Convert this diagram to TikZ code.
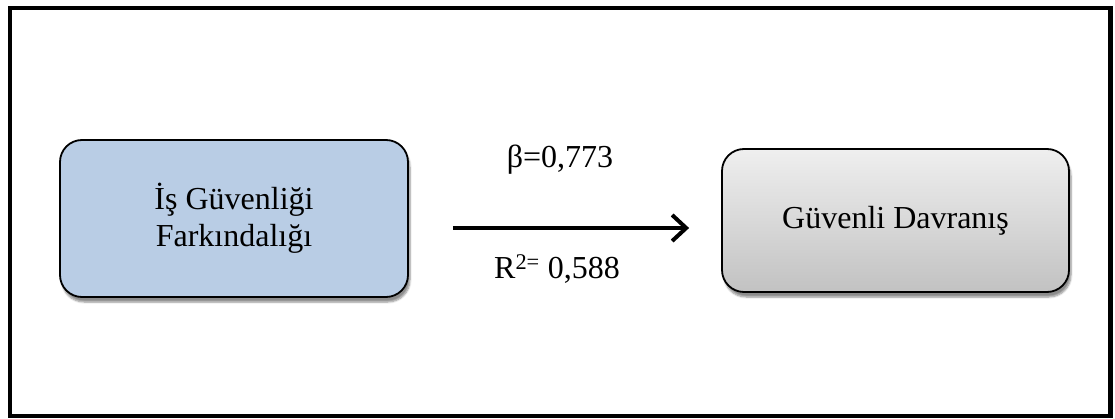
\documentclass[tikz,border=0pt]{standalone}
\usepackage{fontspec}
\setmainfont{Liberation Serif}
\usetikzlibrary{arrows.meta,shadows,shadows.blur}
\definecolor{boxblue}{HTML}{B9CDE5}
\definecolor{gtop}{HTML}{EFEFEF}
\definecolor{gbot}{HTML}{C2C2C2}
\tikzset{
  modelbox/.style={draw=black, line width=1.8pt, rounded corners=22pt, align=center,
    font=\fontsize{32}{36.8}\selectfont, inner sep=0pt,
    blur shadow={shadow xshift=2pt, shadow yshift=-5pt, shadow blur steps=6, shadow opacity=45}},
  pathlabel/.style={font=\fontsize{32}{36.8}\selectfont, inner sep=0pt, anchor=base},
  arr/.style={line width=4pt, -{Straight Barb[length=14pt,width=26pt,line width=4pt]}}
}
\begin{document}
\begin{tikzpicture}[x=1pt,y=-1pt]
\useasboundingbox (0,0) rectangle (1115,419);
\draw[line width=4.5pt] (10,8) rectangle (1110.5,416);
\node[modelbox, fill=boxblue, minimum width=348pt, minimum height=157pt] (a) at (234,218.5)
  {İş Güvenliği\\Farkındalığı};
\node[modelbox, top color=gtop, bottom color=gbot, minimum width=347pt, minimum height=143pt] (b) at (895.5,220.5)
  {Güvenli Davranış};
\coordinate (ay) at (0,228);
\draw[arr, shorten <=44pt, shorten >=32pt] (a.east |- ay) -- (b.west |- ay);
\node[pathlabel] (beta) at (560,168) {β=0,773};
\node[pathlabel] (rsq) at (557,279) {R\textsuperscript{2=} 0,588};
\end{tikzpicture}
\end{document}
